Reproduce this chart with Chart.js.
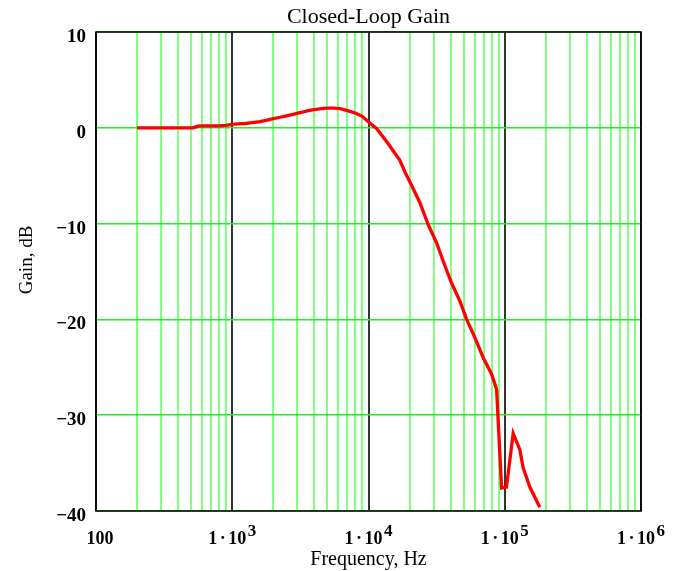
<!DOCTYPE html>
<html>
<head>
<meta charset="utf-8">
<script src="https://cdn.jsdelivr.net/npm/chart.js@4.4.0/dist/chart.umd.min.js"></script>
<style>
  html, body { margin: 0; padding: 0; background: #fff; }
</style>
</head>
<body>
<canvas id="gainChart" width="677" height="571"></canvas>
<script>
// measured closed-loop response
let freqHz = [200, 250, 300, 350, 400, 450, 515, 560, 600, 700, 800, 900,
  1000, 1100, 1250, 1400, 1600, 1800, 2000, 2250, 2500, 2800, 3200, 3600,
  4000, 4500, 5000, 5600, 6200, 7000, 8000, 9000, 10000, 11500, 14000,
  17000, 18500, 20700, 23800, 27400, 31600, 35300, 40700, 46900, 52500,
  60400, 69500, 80000, 87100, 94800, 103000, 115300, 129100, 136500,
  152800, 180800]
let gainDb = [0, 0, 0, 0, 0, 0, 0, 0.17, 0.2, 0.2, 0.2, 0.25,
  0.35, 0.4, 0.45, 0.55, 0.65, 0.8, 0.95, 1.1, 1.25, 1.4, 1.6, 1.8,
  1.9, 2.0, 2.05, 2.05, 2.0, 1.8, 1.55, 1.2, 0.6, -0.1, -1.7,
  -3.4, -4.6, -6.0, -7.8, -10.1, -12.0, -13.9, -16.2, -18.1, -20.0,
  -21.9, -24.0, -25.7, -27.3, -37.6, -37.5, -31.9, -33.6, -35.5,
  -37.5, -39.6]

// axis labels
let decades = [100, 1e3, 1e4, 1e5, 1e6]
let xLabelBase = ['100', '1·10', '1·10', '1·10', '1·10']
let xLabelExp = ['', '3', '4', '5', '6']
let yTicks = [10, 0, -10, -20, -30, -40]

const SERIF = "'Liberation Serif', 'Times New Roman', serif"

// 1..9 x 10^n lines for the log grid
let gridFreqs = []
for (let d = 0; d < decades.length - 1; d++) {
  for (let k = 1; k < 10; k++) gridFreqs.push(k * decades[d])
}
gridFreqs.push(decades[decades.length - 1])

function isDecade(v) {
  let l = Math.log10(v)
  return Math.abs(l - Math.round(l)) < 1e-9
}

// box around the plot, x labels with exponents, rotated y title
const framePlugin = {
  id: 'frameAndLabels',
  afterDraw(chart) {
    const ctx = chart.ctx
    const a = chart.chartArea
    const x = chart.scales.x
    ctx.save()
    ctx.strokeStyle = '#000'
    ctx.lineWidth = 1.5
    ctx.strokeRect(a.left, a.top, a.right - a.left, a.bottom - a.top)

    ctx.fillStyle = '#000'
    ctx.textBaseline = 'alphabetic'
    ctx.textAlign = 'left'
    decades.forEach((v, i) => {
      let px = x.getPixelForValue(v)
      ctx.font = 'bold 18px ' + SERIF
      let parts = xLabelBase[i].split('·')
      let gap = 2.5
      let wParts = parts.map(p => ctx.measureText(p).width)
      let wDot = parts.length > 1 ? ctx.measureText('·').width + 2 * gap : 0
      let wBase = wParts.reduce((s, w) => s + w, 0) + wDot
      ctx.font = 'bold 17px ' + SERIF
      let wExp = xLabelExp[i] ? ctx.measureText(xLabelExp[i]).width + 1.5 : 0
      let cx = px - (wBase + wExp) / 2
      if (i == 0) cx += 4
      ctx.font = 'bold 18px ' + SERIF
      parts.forEach((p, j) => {
        if (j > 0) {
          cx += gap
          ctx.fillText('·', cx, 544)
          cx += ctx.measureText('·').width + gap
        }
        ctx.fillText(p, cx, 544)
        cx += wParts[j]
      })
      if (xLabelExp[i]) {
        ctx.font = 'bold 17px ' + SERIF
        ctx.fillText(xLabelExp[i], cx + 1.5, 535.5)
      }
    })

    ctx.font = '19px ' + SERIF
    ctx.textAlign = 'center'
    ctx.textBaseline = 'middle'
    ctx.translate(27, 260)
    ctx.rotate(-Math.PI / 2)
    ctx.fillText('Gain, dB', 0, 0)
    ctx.restore()
  }
}

let ctx = document.getElementById('gainChart').getContext('2d')
let gainChart = new Chart(ctx, {
  type: 'line',
  data: {
    datasets: [{
      data: freqHz.map((f, i) => ({ x: f, y: gainDb[i] })),
      borderColor: '#ff0000',
      borderWidth: 3.3,
      pointRadius: 0,
      tension: 0,
      fill: false
    }]
  },
  options: {
    responsive: false,
    animation: false,
    layout: { padding: { left: 0, right: 36, top: 0, bottom: 0 } },
    plugins: {
      legend: { display: false },
      tooltip: { enabled: false }
    },
    scales: {
      x: {
        type: 'logarithmic',
        position: 'bottom',
        min: 100,
        max: 1e6,
        afterBuildTicks: s => { s.ticks = gridFreqs.map(v => ({ value: v, major: isDecade(v) })) },
        afterFit: s => { s.height = 60 },
        ticks: { display: false },
        grid: {
          drawTicks: false,
          color: c => isDecade(c.tick.value) ? '#333333' : '#80ff80',
          lineWidth: 2
        },
        border: { display: false },
        title: {
          display: true,
          text: 'Frequency, Hz',
          color: '#000',
          font: { family: SERIF, size: 20, lineHeight: 1.1 },
          padding: { top: 0, bottom: 0 }
        }
      },
      x2: {
        axis: 'x',
        type: 'logarithmic',
        position: 'top',
        min: 100,
        max: 1e6,
        afterFit: s => { s.height = 32 },
        ticks: { display: false },
        grid: { display: false, drawTicks: false },
        border: { display: false },
        title: {
          display: true,
          text: 'Closed-Loop Gain',
          color: '#000',
          font: { family: SERIF, size: 22, lineHeight: 1.2 },
          padding: { top: 4, bottom: 0 }
        }
      },
      y: {
        type: 'linear',
        min: -40,
        max: 10,
        afterBuildTicks: s => { s.ticks = yTicks.map(v => ({ value: v })) },
        afterFit: s => { s.width = 96 },
        ticks: {
          color: '#000',
          padding: 10,
          labelOffset: 5,
          font: { family: SERIF, size: 19, weight: 'bold' },
          callback: v => v < 0 ? '\u2212' + Math.abs(v) : String(v)
        },
        grid: { drawTicks: false, color: '#22ee22', lineWidth: 1.5 },
        border: { display: false }
      }
    }
  },
  plugins: [framePlugin]
})
</script>
</body>
</html>
